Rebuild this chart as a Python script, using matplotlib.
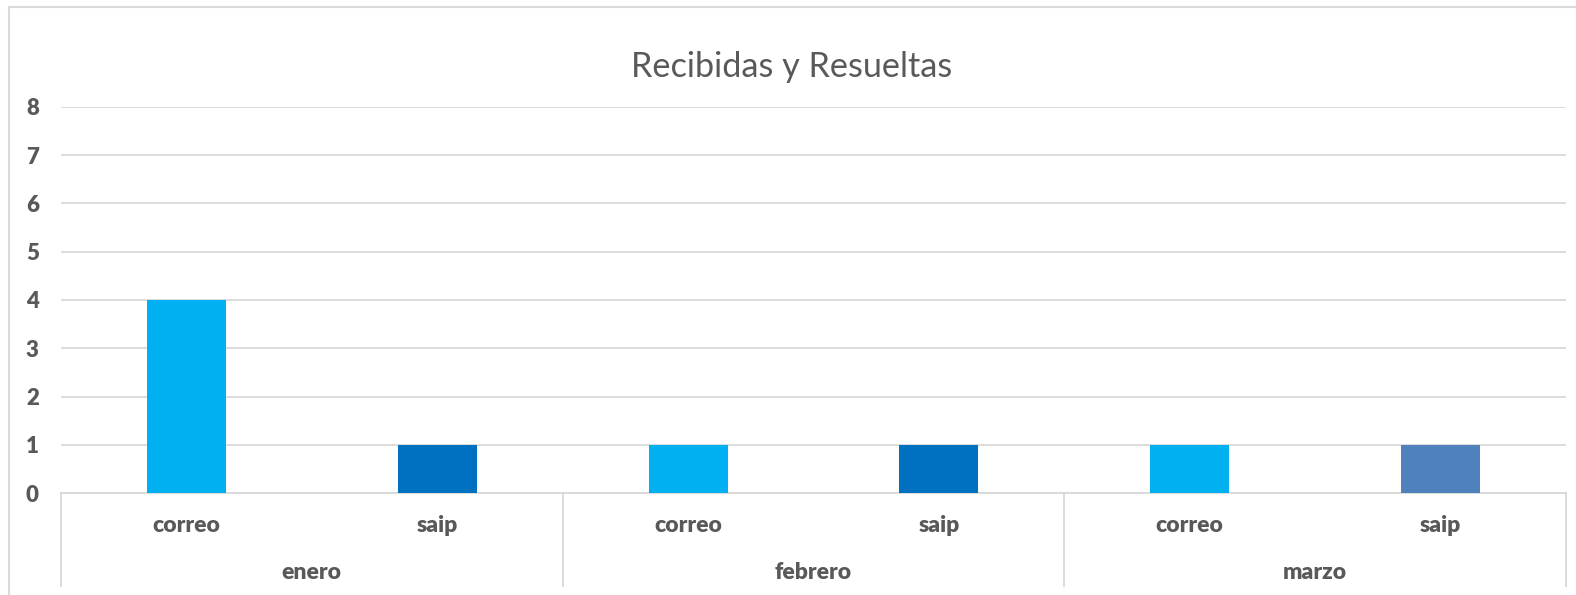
import matplotlib.pyplot as plt
from matplotlib.lines import Line2D

# Data
months = ['enero', 'febrero', 'marzo']
channels = ['correo', 'saip']
values = [4, 1, 1, 1, 1, 1]
bar_colors = ['#00B0F0', '#0070C0', '#00B0F0', '#0070C0', '#00B0F0', '#4F81BD']
y_ticks = [0, 1, 2, 3, 4, 5, 6, 7, 8]

text_color = '#595959'
line_color = '#D9D9D9'
plt.rcParams['font.family'] = ['Lato', 'DejaVu Sans']

fig = plt.figure(figsize=(15.76, 5.95), dpi=100)
ax = fig.add_axes([0.0387, 0.1714, 0.955, 0.6488])

x = list(range(len(values)))
ax.bar(x, values, width=0.315, color=bar_colors, zorder=3)

ax.set_xlim(-0.5, len(values) - 0.5)
ax.set_ylim(0, 8)
ax.set_yticks(y_ticks)
ax.set_yticklabels([str(t) for t in y_ticks], fontsize=16, fontweight='heavy', color=text_color)
ax.tick_params(axis='y', length=0, pad=16)
ax.set_xticks([])
ax.grid(axis='y', color=line_color, linewidth=1.3, zorder=0)
for s in ['top', 'right', 'left']:
    ax.spines[s].set_visible(False)
ax.spines['bottom'].set_color(line_color)
ax.spines['bottom'].set_linewidth(1.3)

# multi-level category axis
trans = ax.get_xaxis_transform()
for i in x:
    ax.text(i, -0.083, channels[i % 2], transform=trans, ha='center', va='center',
            fontsize=16.5, fontweight='heavy', color=text_color)
for g, m in enumerate(months):
    ax.text(2 * g + 0.5, -0.205, m, transform=trans, ha='center', va='center',
            fontsize=16.5, fontweight='heavy', color=text_color)
for g in range(len(months) + 1):
    ax.plot([2 * g - 0.5, 2 * g - 0.5], [0, -0.241], transform=trans, color=line_color,
            linewidth=1.3, clip_on=False)

# title centred on the chart area, not the plot area
fig.text(0.502, 0.888, 'Recibidas y Resueltas', fontsize=24.7, color=text_color,
         ha='center', va='center')

# chart border
fig.add_artist(Line2D([0.0055, 0.0055], [0, 0.988], color=line_color, linewidth=1.5))
fig.add_artist(Line2D([0.0055, 1], [0.988, 0.988], color=line_color, linewidth=1.5))

fig.savefig('out.png', dpi=100, facecolor='white')
